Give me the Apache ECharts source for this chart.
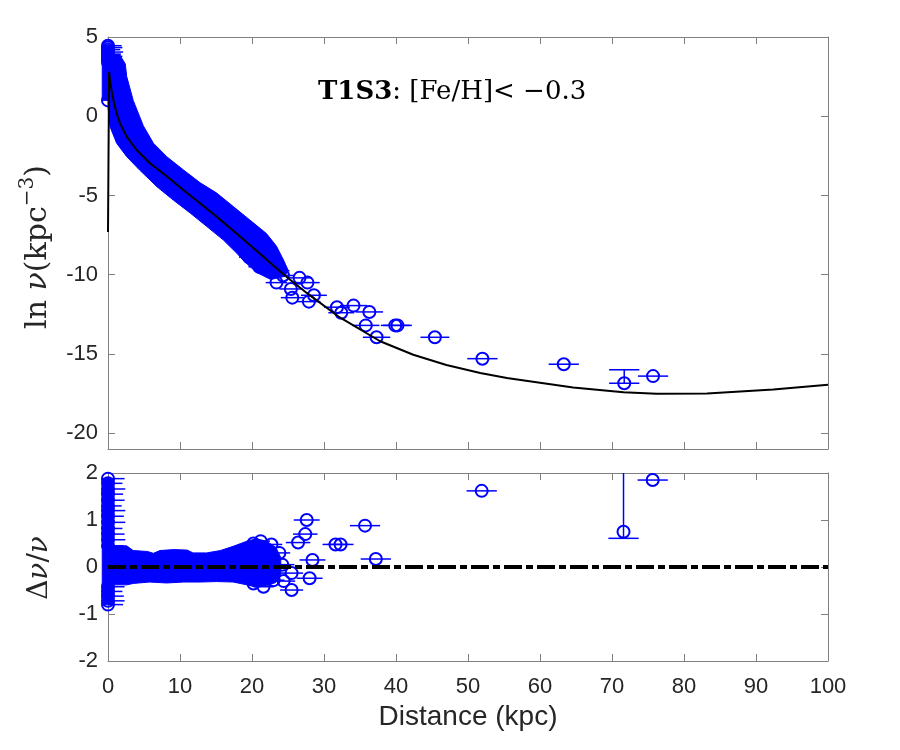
<!DOCTYPE html>
<html>
<head>
<meta charset="utf-8">
<script src="https://cdn.jsdelivr.net/npm/echarts@6/dist/echarts.min.js"></script>
<style>html,body{margin:0;background:#fff}#chart{width:900px;height:750px}</style>
</head>
<body>
<div id="chart"></div>
<script>
var blue = '#0000ff';
var frameColor = '#808080';
var sans = "'Liberation Sans', Arial, Helvetica, sans-serif";
var serif = "'DejaVu Serif', 'Liberation Serif', serif";

// ---- top panel: ln nu ----
var modelCurve = [[0, -7.3], [0.15, 2.8], [0.37, 1.9], [0.74, 1.03], [1.2, 0.19], [1.67, -0.45], [2.6, -1.29],
    [3.98, -2.13], [5.83, -2.97], [8.15, -3.79], [10.46, -4.65], [12.78, -5.49], [15.1, -6.34], [17.4, -7.22],
    [19.7, -8.12], [21.3, -8.76], [23.0, -9.43], [25.3, -10.32], [27.6, -11.15], [32.2, -12.7], [37.8, -14.2],
    [42.4, -15.05], [47.0, -15.7], [51.7, -16.2], [55.4, -16.52], [64.6, -17.12], [71.6, -17.42], [76.2, -17.52],
    [83.2, -17.5], [92.4, -17.25], [100, -16.95]];
// edges of the dense band of stars (upper / lower side)
var topBandUpper = [[0, 3.9], [1.6, 3.9], [2.4, 3.3], [2.6, 2.5], [3.5, 1.0], [4.9, -0.6], [6.3, -1.7], [8.15, -2.55],
    [10.5, -3.4], [12.8, -4.2], [15.1, -4.85], [17.4, -5.7], [19.7, -6.55], [22.0, -7.4], [23.4, -8.2], [24.4, -9.1], [25.0, -9.7]];
var topBandLower = [[0, 0.6], [0.28, -0.66], [1.2, -1.7], [2.6, -2.55], [4.4, -3.4], [6.8, -4.45], [9.1, -5.3],
    [11.4, -6.1], [13.7, -6.95], [16.0, -7.8], [17.9, -8.65], [18.8, -9.1], [20.6, -9.85], [22.6, -10.3], [24.6, -10.1]];
// column of stars at zero distance: [x, value] corners
var topStripHigh = [[-0.8, 4.45], [0.8, 4.45]];
var topStripLow = [[-0.8, 1.0], [0.8, 1.0]];
// [distance, ln nu, x error]
var topStrip = [[0, 4.45, 1.9], [0, 4.33, 2.0], [0, 4.2, 1.7], [0, 4.05, 2.1], [0, 3.92, 1.8], [0, 3.78, 2.0],
    [0, 3.6, 1.6], [0, 3.4, 1.5], [0, 1.0, 0.6]];
var topStars = [[19.6, -8.9, 1.4], [21.0, -9.5, 1.5], [21.6, -8.4, 1.5], [22.8, -9.1, 1.6], [23.7, -9.75, 1.5],
    [24.3, -10.05, 1.7], [23.4, -10.5, 1.5],
    [25.4, -10.9, 1.6], [25.6, -11.45, 1.6], [26.6, -10.2, 1.7], [27.7, -10.5, 1.7], [27.9, -11.7, 1.6],
    [28.6, -11.3, 1.8], [31.8, -12.05, 1.8], [32.4, -12.4, 1.8], [34.1, -11.95, 1.9], [36.3, -12.35, 1.9],
    [35.8, -13.2, 1.9], [37.3, -13.95, 1.9], [39.9, -13.2, 2.0], [40.2, -13.2, 2.0], [45.4, -13.95, 2.0],
    [52.0, -15.3, 2.1], [63.3, -15.65, 2.1], [71.7, -16.85, 2.1], [75.7, -16.4, 2.1]];
// [distance, cap value, end value, cap half width]
var topVBars = [[71.7, -16.0, -16.9, 2.1]];

// ---- bottom panel: residuals ----
var botBandUpper = [[0.5, 0.45], [2.6, 0.45], [3.5, 0.35], [5.5, 0.33], [6.3, 0.29], [7.2, 0.35], [9.1, 0.37],
    [11.0, 0.36], [11.8, 0.3], [13.7, 0.3], [15.6, 0.35], [17.4, 0.44], [19.3, 0.55], [20.6, 0.6], [22.0, 0.55], [23.3, 0.42], [24.0, 0.2]];
var botBandLower = [[0.5, -0.38], [2.6, -0.38], [3.5, -0.35], [5.8, -0.32], [8.15, -0.34], [10.5, -0.32],
    [12.8, -0.32], [15.1, -0.31], [17.4, -0.32], [19.3, -0.38], [20.6, -0.43], [22.0, -0.4], [23.3, -0.33], [24.0, -0.15]];
var botStripHigh = [[-0.8, 1.88], [0.8, 1.88]];
var botStripLow = [[-0.8, -0.8], [0.8, -0.8]];
var botStrip = [[0, 1.88, 2.3], [0, 1.78, 2.0], [0, 1.66, 2.4], [0, 1.55, 2.1], [0, 1.42, 2.3], [0, 1.3, 1.9],
    [0, 1.2, 2.4], [0, 1.08, 2.2], [0, 0.95, 2.4], [0, 0.82, 2.0], [0, 0.7, 2.3], [0, 0.58, 2.4], [0, 0.45, 2.2],
    [0, -0.42, 2.3], [0, -0.52, 2.0], [0, -0.62, 2.2], [0, -0.72, 2.3], [0, -0.8, 2.1]];
var botStars = [[20.2, 0.5, 1.4], [20.2, -0.35, 1.4], [21.2, 0.55, 1.3], [21.6, -0.42, 1.4], [22.7, 0.48, 1.5],
    [23.0, -0.28, 1.5], [23.8, 0.3, 1.5], [24.4, -0.3, 1.6], [24.2, 0.05, 1.7], [25.5, -0.13, 1.6],
    [25.5, -0.49, 1.6], [26.4, 0.52, 1.7], [27.4, 0.7, 1.7], [27.6, 1.0, 1.8], [28.0, -0.24, 1.8],
    [28.4, 0.15, 1.8], [31.6, 0.48, 1.8], [32.3, 0.48, 1.8], [35.7, 0.88, 2.1], [37.2, 0.17, 2.1],
    [51.9, 1.62, 2.1], [71.6, 0.75, 0], [75.65, 1.85, 2.1]];
var botVBars = [[71.6, 0.61, 2.0, 2.1]];
var zeroLine = [[0, 0], [100, 0]];

var topYTicks = [-20, -15, -10, -5, 0, 5];

var chart = echarts.init(document.getElementById('chart'), null, {renderer: 'canvas'});

var starRender = function (params, api) {
    var x = api.value(0), y = api.value(1), e = api.value(2);
    var c = api.coord([x, y]);
    var l = api.coord([Math.max(0, x - e), y]);
    var r = api.coord([x + e, y]);
    var kids = [];
    if (e > 0) {
        kids.push({type: 'line', shape: {x1: l[0], y1: c[1], x2: r[0], y2: c[1]},
            style: {stroke: blue, lineWidth: 1.5}});
    }
    kids.push({type: 'circle', shape: {cx: c[0], cy: c[1], r: 6},
        style: {fill: 'rgba(0,0,0,0)', stroke: blue, lineWidth: 2}});
    return {type: 'group', children: kids};
};

var vbarRender = function (params, api) {
    var x = api.value(0);
    var a = api.coord([x, api.value(1)]);
    var b = api.coord([x, api.value(2)]);
    var l = api.coord([x - api.value(3), api.value(1)]);
    var r = api.coord([x + api.value(3), api.value(1)]);
    return {type: 'group', children: [
        {type: 'line', shape: {x1: a[0], y1: a[1], x2: b[0], y2: b[1]}, style: {stroke: blue, lineWidth: 1.5}},
        {type: 'line', shape: {x1: l[0], y1: a[1], x2: r[0], y2: a[1]}, style: {stroke: blue, lineWidth: 1.5}}
    ]};
};

var bandSeries = function (upper, lower, xi, yi) {
    return {
        type: 'custom', xAxisIndex: xi, yAxisIndex: yi, z: 2, silent: true,
        data: [[upper[0][0], upper[0][1]]],
        renderItem: function (params, api) {
            var pts = [];
            for (var i = 0; i < upper.length; i++) pts.push(api.coord(upper[i]));
            for (var j = lower.length - 1; j >= 0; j--) pts.push(api.coord(lower[j]));
            return {type: 'polygon', shape: {points: pts}, style: {fill: blue, stroke: blue, lineWidth: 1}};
        }
    };
};

var makeX = function (grid, pos, labels) {
    return {
        type: 'value', gridIndex: grid, position: pos, min: 0, max: 100, interval: 10,
        axisLine: {onZero: false, lineStyle: {color: frameColor, width: 1}},
        axisTick: {show: true, inside: true, length: 7, lineStyle: {color: frameColor}},
        axisLabel: {show: labels, color: '#262626', fontSize: 22, fontFamily: sans, margin: 15},
        splitLine: {show: false},
        name: labels ? 'Distance (kpc)' : '',
        nameLocation: 'middle', nameGap: 42,
        nameTextStyle: {color: '#262626', fontSize: 28, fontFamily: sans}
    };
};

var makeY = function (grid, pos, min, max, ticks, labels) {
    var ax = {
        type: 'value', gridIndex: grid, position: pos, min: min, max: max,
        axisLine: {show: true, onZero: false, lineStyle: {color: frameColor}},
        axisTick: {show: true, inside: true, length: 7, lineStyle: {color: frameColor}},
        axisLabel: {show: labels, color: '#262626', fontSize: 22, fontFamily: sans, margin: 10},
        splitLine: {show: false}
    };
    if (ticks) {
        ax.axisTick.customValues = ticks;
        ax.axisLabel.customValues = ticks;
    } else {
        ax.interval = 1;
    }
    return ax;
};

chart.setOption({
    animation: false,
    backgroundColor: '#fff',
    grid: [
        {left: 108, width: 720, top: 37, height: 412},
        {left: 108, width: 720, top: 473, height: 188}
    ],
    xAxis: [makeX(0, 'bottom', false), makeX(0, 'top', false), makeX(1, 'bottom', true), makeX(1, 'top', false)],
    yAxis: [
        makeY(0, 'left', -21, 5, topYTicks, true),
        makeY(0, 'right', -21, 5, topYTicks, false),
        makeY(1, 'left', -2, 2, null, true),
        makeY(1, 'right', -2, 2, null, false)
    ],
    graphic: [
        {type: 'text', x: 38, y: 247, rotation: Math.PI / 2,
            style: {text: '{a|ln }{i|ν}{a|(kpc}{s|−3}{a|)}', align: 'center', verticalAlign: 'middle',
                rich: {
                    a: {fontFamily: serif, fontSize: 30, fill: '#262626', lineHeight: 40},
                    i: {fontFamily: serif, fontSize: 30, fontStyle: 'italic', fill: '#262626', lineHeight: 40},
                    s: {fontFamily: serif, fontSize: 20, fill: '#262626', lineHeight: 20, verticalAlign: 'top'}
                }}},
        {type: 'text', x: 40, y: 568, rotation: Math.PI / 2,
            style: {text: '{a|Δ}{i|ν}{a|/}{i|ν}', align: 'center', verticalAlign: 'middle',
                rich: {
                    a: {fontFamily: serif, fontSize: 28, fill: '#262626'},
                    i: {fontFamily: serif, fontSize: 28, fontStyle: 'italic', fill: '#262626'}
                }}},
        {type: 'text', x: 318, y: 92,
            style: {text: '{b|T1S3}{n|: [Fe/H]< −0.3}', align: 'left', verticalAlign: 'middle',
                rich: {
                    b: {fontFamily: serif, fontSize: 26, fontWeight: 'bold', fill: '#000'},
                    n: {fontFamily: serif, fontSize: 26, fill: '#000'}
                }}}
    ],
    series: [
        bandSeries(topBandUpper, topBandLower, 0, 0),
        bandSeries(topStripHigh, topStripLow, 0, 0),
        {type: 'custom', xAxisIndex: 0, yAxisIndex: 0, z: 3, renderItem: starRender, data: topStrip},
        {type: 'custom', xAxisIndex: 0, yAxisIndex: 0, z: 3, renderItem: starRender, data: topStars},
        {type: 'custom', xAxisIndex: 0, yAxisIndex: 0, z: 3, renderItem: vbarRender, data: topVBars},
        {type: 'line', xAxisIndex: 0, yAxisIndex: 0, z: 5, data: modelCurve, showSymbol: false,
            lineStyle: {color: '#000', width: 2}},

        bandSeries(botBandUpper, botBandLower, 2, 2),
        bandSeries(botStripHigh, botStripLow, 2, 2),
        {type: 'custom', xAxisIndex: 2, yAxisIndex: 2, z: 3, renderItem: starRender, data: botStrip},
        {type: 'custom', xAxisIndex: 2, yAxisIndex: 2, z: 3, renderItem: starRender, data: botStars},
        {type: 'custom', xAxisIndex: 2, yAxisIndex: 2, z: 3, renderItem: vbarRender, data: botVBars},
        {type: 'line', xAxisIndex: 2, yAxisIndex: 2, z: 5, data: zeroLine, showSymbol: false,
            lineStyle: {color: '#000', width: 4, type: [18, 4, 7, 4]}}
    ]
});
</script>
</body>
</html>
